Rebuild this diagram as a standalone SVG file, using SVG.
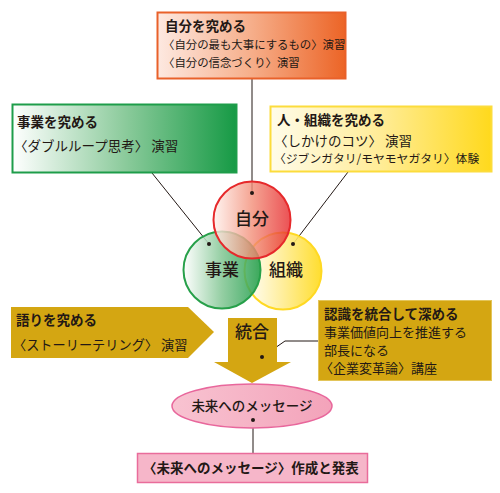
<svg xmlns="http://www.w3.org/2000/svg" width="500" height="493" viewBox="0 0 500 493">
<defs>
<linearGradient id="gOrange" x1="0" x2="1" y1="0" y2="0"><stop offset="0" stop-color="#FDE9E1"/><stop offset="0.5" stop-color="#F6AE8A"/><stop offset="1" stop-color="#EC6426"/></linearGradient>
<linearGradient id="gGreen" x1="0" x2="1" y1="0" y2="0"><stop offset="0" stop-color="#FFFFFF"/><stop offset="0.5" stop-color="#8CCB9C"/><stop offset="1" stop-color="#169A45"/></linearGradient>
<linearGradient id="gYellow" x1="0" x2="1" y1="0" y2="0"><stop offset="0" stop-color="#FFFCEA"/><stop offset="0.5" stop-color="#FFEC96"/><stop offset="1" stop-color="#FFD91C"/></linearGradient>
<linearGradient id="cRed" x1="0" x2="1" y1="0" y2="0"><stop offset="0" stop-color="#FFF1EC"/><stop offset="0.5" stop-color="#F28E78"/><stop offset="1" stop-color="#E6262A"/></linearGradient>
<linearGradient id="cGreen" x1="0" x2="1" y1="0" y2="0"><stop offset="0" stop-color="#FFFFFF"/><stop offset="0.5" stop-color="#82C693"/><stop offset="1" stop-color="#1A9B46"/></linearGradient>
<linearGradient id="cYellow" x1="0" x2="1" y1="0" y2="0"><stop offset="0" stop-color="#FFFFFF"/><stop offset="0.5" stop-color="#FFEC90"/><stop offset="1" stop-color="#FFDA18"/></linearGradient>
<linearGradient id="gPink" x1="0" x2="1" y1="0" y2="0"><stop offset="0" stop-color="#F8C3D1"/><stop offset="1" stop-color="#F3A3BA"/></linearGradient>
</defs>
<style>
text{font-family:"Noto Sans CJK JP","Noto Sans CJK SC",sans-serif;fill:#231815;}
.t{font-size:13.5px;font-weight:bold;}
.l{font-size:13.2px;}
.s{font-size:11.4px;}
.n{font-size:13px;}
.c{font-size:17px;text-anchor:middle;font-weight:500;}
.ln{stroke:#231815;stroke-width:1;fill:none;}
.dot{fill:#231815;}
.gold{fill:#D4A612;}
</style>
<g id="connectors">
<line class="ln" x1="252" y1="79" x2="252" y2="193"/>
<line class="ln" x1="152" y1="173" x2="209" y2="244"/>
<line class="ln" x1="348" y1="172" x2="293" y2="244"/>
<polyline class="ln" points="262,357 285,341 318,341"/>
<line class="ln" x1="253" y1="420" x2="253" y2="453"/>
</g>
<g id="node-jibun-box">
<rect x="157.5" y="12.5" width="188" height="66" fill="url(#gOrange)" stroke="#E9612A" stroke-width="2"/>
<text class="t" x="165" y="31">自分を究める</text>
<text class="s" x="163" y="49">〈自分の最も大事にするもの〉演習</text>
<text class="s" x="163" y="67">〈自分の信念づくり〉演習</text>
</g>
<g id="node-jigyo-box">
<rect x="12.5" y="104.5" width="224" height="68" fill="url(#gGreen)" stroke="#1E9D4A" stroke-width="2"/>
<text class="t" x="17" y="127">事業を究める</text>
<text class="l" x="14" y="151" style="font-size:13.5px">〈ダブルループ思考〉 演習</text>
</g>
<g id="node-soshiki-box">
<rect x="270.5" y="106.5" width="221" height="65" fill="url(#gYellow)" stroke="#FCDC3C" stroke-width="2"/>
<text class="t" x="277" y="125">人・組織を究める</text>
<text class="l" x="274" y="146" style="font-size:13.5px">〈しかけのコツ〉 演習</text>
<text class="s" x="274" y="163" style="font-size:11.8px">〈ジブンガタリ/モヤモヤガタリ〉体験</text>
</g>
<g id="node-circles">
<circle cx="283" cy="271" r="38.5" fill="url(#cYellow)" fill-opacity="0.9" stroke="#FFD923" stroke-width="2"/>
<circle cx="222" cy="270" r="38.5" fill="url(#cGreen)" fill-opacity="0.85" stroke="#27A04A" stroke-width="2"/>
<circle cx="252" cy="220" r="38.5" fill="url(#cRed)" fill-opacity="0.8" stroke="#E6292B" stroke-width="2"/>
<text class="c" x="252" y="225">自分</text>
<text class="c" x="222" y="276">事業</text>
<text class="c" x="286" y="276">組織</text>
<circle class="dot" cx="252" cy="193" r="2"/>
<circle class="dot" cx="209" cy="244" r="2"/>
<circle class="dot" cx="293" cy="244" r="2"/>
</g>
<g id="node-katari">
<polygon class="gold" points="11,307 188,307 214,332 188,358 11,358"/>
<text class="t" x="16" y="325">語りを究める</text>
<text class="l" x="13" y="350">〈ストーリーテリング〉 演習</text>
</g>
<g id="node-togo">
<polygon class="gold" points="228,318 277,318 277,362 291,362 252,383 214,362 228,362"/>
<text class="c" x="252" y="338">統合</text>
<circle class="dot" cx="262" cy="357" r="2"/>
</g>
<g id="node-ninshiki">
<rect x="318.5" y="300.5" width="173" height="80" class="gold" stroke="#E3C55A" stroke-width="1"/>
<text class="t" x="324" y="319">認識を統合して深める</text>
<text class="n" x="324" y="337">事業価値向上を推進する</text>
<text class="n" x="324" y="355">部長になる</text>
<text class="n" x="320" y="373">〈企業変革論〉講座</text>
</g>
<g id="node-message">
<ellipse cx="252" cy="406" rx="80" ry="22" fill="url(#gPink)" stroke="#E8679C" stroke-width="1.5"/>
<text class="c" x="252" y="411" style="font-size:13.5px">未来へのメッセージ</text>
<circle class="dot" cx="253" cy="420" r="2"/>
</g>
<g id="node-happyo">
<rect x="137.5" y="453.5" width="230" height="29" fill="#F6B6C9" stroke="#E96C9B" stroke-width="1.5"/>
<text class="t" x="143" y="473">〈未来へのメッセージ〉作成と発表</text>
</g>
</svg>
